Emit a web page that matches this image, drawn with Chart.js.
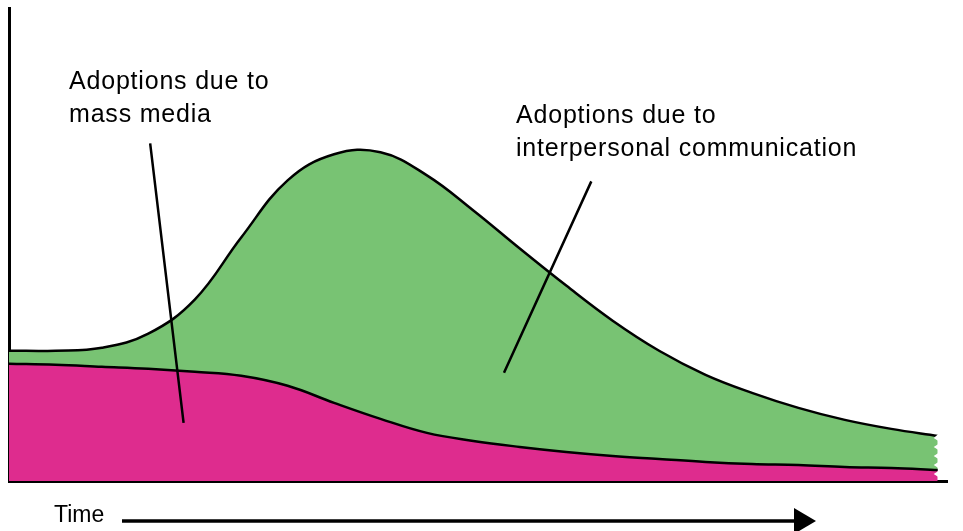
<!DOCTYPE html>
<html>
<head>
<meta charset="utf-8">
<script src="https://cdn.jsdelivr.net/npm/chart.js@4/dist/chart.umd.min.js"></script>
<style>
  html, body { margin: 0; padding: 0; background: #fff; }
  #wrap { width: 963px; height: 531px; }
</style>
</head>
<body>
<div id="wrap"><canvas id="myChart" width="963" height="531"></canvas></div>
<script>
// time steps
var times = [0, 5, 10, 15, 20, 25, 30, 35, 40, 45, 50, 55, 60, 65, 70, 75, 80, 85, 90, 95, 100];
// adoptions due to mass media (bottom band)
var massMedia = [117, 116, 114, 112, 109, 105, 95, 78, 62, 48, 40, 34, 29, 25, 22, 19, 17, 16, 14, 13, 11];
// adoptions due to interpersonal communication (stacked on top)
var interpersonal = [13, 14, 19, 35, 72, 138, 205, 248, 266, 257, 230, 198, 166, 135, 108, 87, 71, 57, 47, 39, 34];

var GREEN = '#78c373';
var MAGENTA = '#de2c8e';
var FONT = '"Liberation Sans", Arial, Helvetica, sans-serif';

function pts(arr) {
    return arr.map(function (v, i) { return { x: times[i], y: v }; });
}

// annotation text + leader lines + time arrow
var notes = {
    id: 'notes',
    afterDatasetsDraw: function (chart) {
        var c = chart.ctx;
        var xs = chart.scales.x, ys = chart.scales.y;
        var last = times.length - 1;
        var ex = xs.getPixelForValue(times[last]);
        var topY = ys.getPixelForValue(massMedia[last] + interpersonal[last]);
        var botY = ys.getPixelForValue(0);

        // zigzag cut at the right edge
        c.save();
        c.fillStyle = '#fff';
        c.beginPath();
        c.moveTo(ex + 3, topY - 4);
        var y = topY + 2, up = false;
        while (y < botY - 2) {
            c.lineTo(up ? ex + 3 : ex - 4, y);
            y += 4.5;
            up = !up;
        }
        c.lineTo(ex + 3, botY - 2);
        c.lineTo(ex + 20, botY - 2);
        c.lineTo(ex + 20, topY - 4);
        c.closePath();
        c.fill();
        c.restore();
    },
    afterDraw: function (chart) {
        var c = chart.ctx;
        var xs = chart.scales.x, ys = chart.scales.y;
        c.save();
        c.fillStyle = '#000';
        c.font = '25px ' + FONT;
        c.letterSpacing = '0.8px';
        c.textBaseline = 'alphabetic';
        c.fillText('Adoptions due to', 69, 89);
        c.fillText('mass media', 69, 122);
        c.fillText('Adoptions due to', 516, 123);
        c.fillText('interpersonal communication', 516, 156);
        c.letterSpacing = '0px';
        c.font = '23px ' + FONT;
        c.fillText('Time', 54, 522);

        c.strokeStyle = '#000';
        c.lineWidth = 2.5;
        c.beginPath();
        c.moveTo(xs.getPixelForValue(15.2), ys.getPixelForValue(337));
        c.lineTo(xs.getPixelForValue(18.8), ys.getPixelForValue(58));
        c.moveTo(xs.getPixelForValue(62.7), ys.getPixelForValue(299));
        c.lineTo(xs.getPixelForValue(53.3), ys.getPixelForValue(108));
        c.stroke();

        // time arrow
        c.lineWidth = 3.5;
        c.beginPath();
        c.moveTo(122, 521);
        c.lineTo(796, 521);
        c.stroke();
        c.beginPath();
        c.moveTo(794, 508);
        c.lineTo(816, 521);
        c.lineTo(794, 534);
        c.closePath();
        c.fill();
        c.restore();
    }
};

var ctx = document.getElementById('myChart').getContext('2d');
var myChart = new Chart(ctx, {
    type: 'line',
    data: {
        datasets: [{
            label: 'Adoptions due to mass media',
            data: pts(massMedia),
            backgroundColor: MAGENTA,
            borderColor: '#000',
            borderWidth: 2.5,
            fill: 'origin',
            pointRadius: 0,
            tension: 0.4
        }, {
            label: 'Adoptions due to interpersonal communication',
            data: pts(interpersonal),
            backgroundColor: GREEN,
            borderColor: '#000',
            borderWidth: 2.5,
            fill: '-1',
            pointRadius: 0,
            tension: 0.4
        }]
    },
    options: {
        responsive: false,
        animation: false,
        layout: { padding: { left: 9, top: 8, right: 16, bottom: 50 } },
        plugins: { legend: { display: false }, tooltip: { enabled: false } },
        scales: {
            x: {
                type: 'linear',
                min: 0,
                max: 101,
                grid: { display: false, drawTicks: false },
                ticks: { display: false },
                border: { display: true, color: '#000', width: 3 }
            },
            y: {
                stacked: true,
                min: 0,
                max: 472,
                grid: { display: false, drawTicks: false },
                ticks: { display: false },
                border: { display: true, color: '#000', width: 3 }
            }
        }
    },
    plugins: [notes]
});
</script>
</body>
</html>
